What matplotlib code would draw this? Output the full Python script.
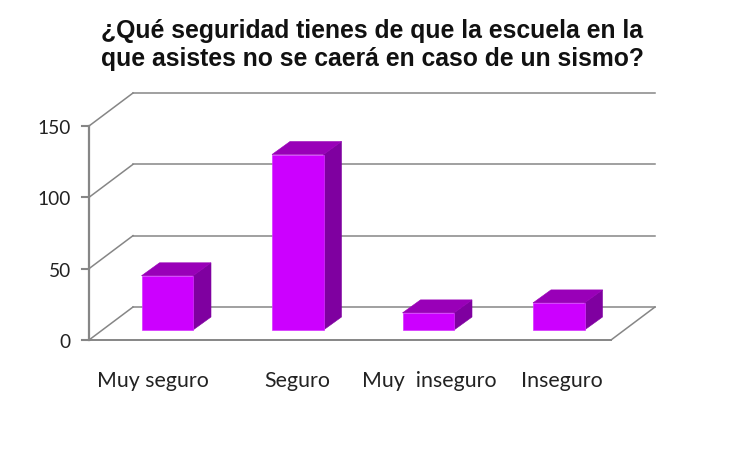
import matplotlib
matplotlib.use("Agg")
import matplotlib.pyplot as plt
from matplotlib.patches import Polygon
from matplotlib.transforms import ScaledTranslation

title = "¿Qué seguridad tienes de que la escuela en la\nque asistes no se caerá en caso de un sismo?"
categories = ["Muy seguro", "Seguro", "Muy  inseguro", "Inseguro"]
values = [38, 123, 12, 19]
y_ticks = [0, 50, 100, 150]

W, H, DPI = 750, 450, 100
L, R, T, B = 89, 611, 126, 340          # plot box, pixels from top-left
WALL_DX, WALL_DY = 44, 33               # depth of the back wall, pixels
BAR_W, BAR_DX, BAR_DY = 51.5, 18, 13    # bar width and depth, pixels
BAR_SHIFT_X, BAR_SHIFT_Y = 13, 10       # bar offset from category slot, pixels
LABEL_SHIFT = [-1, 13, 14, 16]          # label offset from category slot, pixels
GREY = "#868686"

fig = plt.figure(figsize=(W / DPI, H / DPI), dpi=DPI, facecolor="white")
ax = fig.add_axes([L / W, 1 - B / H, (R - L) / W, (B - T) / H])
ax.set_xlim(0, len(categories))
ax.set_ylim(0, 150)
ax.axis("off")

def shifted(dx, dy):
    return ax.transData + ScaledTranslation(dx / DPI, dy / DPI, fig.dpi_scale_trans)

# back wall and floor
xmax = len(categories)
for v in y_ticks:
    ax.plot([0, xmax], [v, v], color=GREY, lw=1.1, clip_on=False, zorder=1,
            transform=shifted(WALL_DX, WALL_DY))
    # diagonal from the axis to the wall
    p0 = ax.transData.transform((0, v))
    fig.add_artist(plt.Line2D([p0[0], p0[0] + WALL_DX], [p0[1], p0[1] + WALL_DY],
                              color=GREY, lw=1.1, transform=None, zorder=1))
    # tick mark
    fig.add_artist(plt.Line2D([p0[0] - 7, p0[0]], [p0[1], p0[1]], color=GREY,
                              lw=1.5, transform=None, zorder=1))
    ax.annotate(str(v), (0, v), xytext=(-18 * 72 / DPI, -1 * 72 / DPI), textcoords="offset points",
                ha="right", va="center_baseline", fontsize=13.8, family="Lato", color="#222222",
                annotation_clip=False)

ax.plot([0, 0], [0, 150], color=GREY, lw=1.6, clip_on=False, zorder=2)
ax.plot([0, xmax], [0, 0], color=GREY, lw=1.4, clip_on=False, zorder=2)
p1 = ax.transData.transform((xmax, 0))
fig.add_artist(plt.Line2D([p1[0], p1[0] + WALL_DX], [p1[1], p1[1] + WALL_DY],
                          color=GREY, lw=1.1, transform=None, zorder=1))

# 3D bars
unit_x = (R - L) / xmax
unit_y = (B - T) / 150
bar_w = BAR_W / unit_x
centers = [i + 0.5 for i in range(len(categories))]
front = ax.bar(centers, values, width=bar_w, color="#CC00FF", edgecolor="#D633FF", linewidth=0.5,
               clip_on=False, zorder=5, transform=shifted(BAR_SHIFT_X, BAR_SHIFT_Y))
ddx, ddy = BAR_DX / unit_x, BAR_DY / unit_y
for c, v in zip(centers, values):
    x0, x1 = c - bar_w / 2, c + bar_w / 2
    t = shifted(BAR_SHIFT_X, BAR_SHIFT_Y)
    ax.add_patch(Polygon([(x1, 0), (x1 + ddx, ddy), (x1 + ddx, v + ddy), (x1, v)],
                         closed=True, facecolor="#7F00A0", edgecolor="#7F00A0", lw=0.4,
                         clip_on=False, zorder=4, transform=t))
    ax.add_patch(Polygon([(x0, v), (x1, v), (x1 + ddx, v + ddy), (x0 + ddx, v + ddy)],
                         closed=True, facecolor="#9900B8", edgecolor="#9900B8", lw=0.4,
                         clip_on=False, zorder=4, transform=t))

# category labels
for c, label, s in zip(centers, categories, LABEL_SHIFT):
    ax.annotate(label, (c, 0), xytext=(s * 72 / DPI, -41 * 72 / DPI), textcoords="offset points",
                ha="center", va="center", fontsize=15.4, family="Lato", color="#222222",
                annotation_clip=False)

fig.text(372 / W, 1 - 45 / H, title, ha="center", va="center", fontsize=17.8, fontweight="bold",
         family="Liberation Sans", color="#111111", linespacing=1.22)

fig.savefig("out.png", dpi=DPI, facecolor="white")
